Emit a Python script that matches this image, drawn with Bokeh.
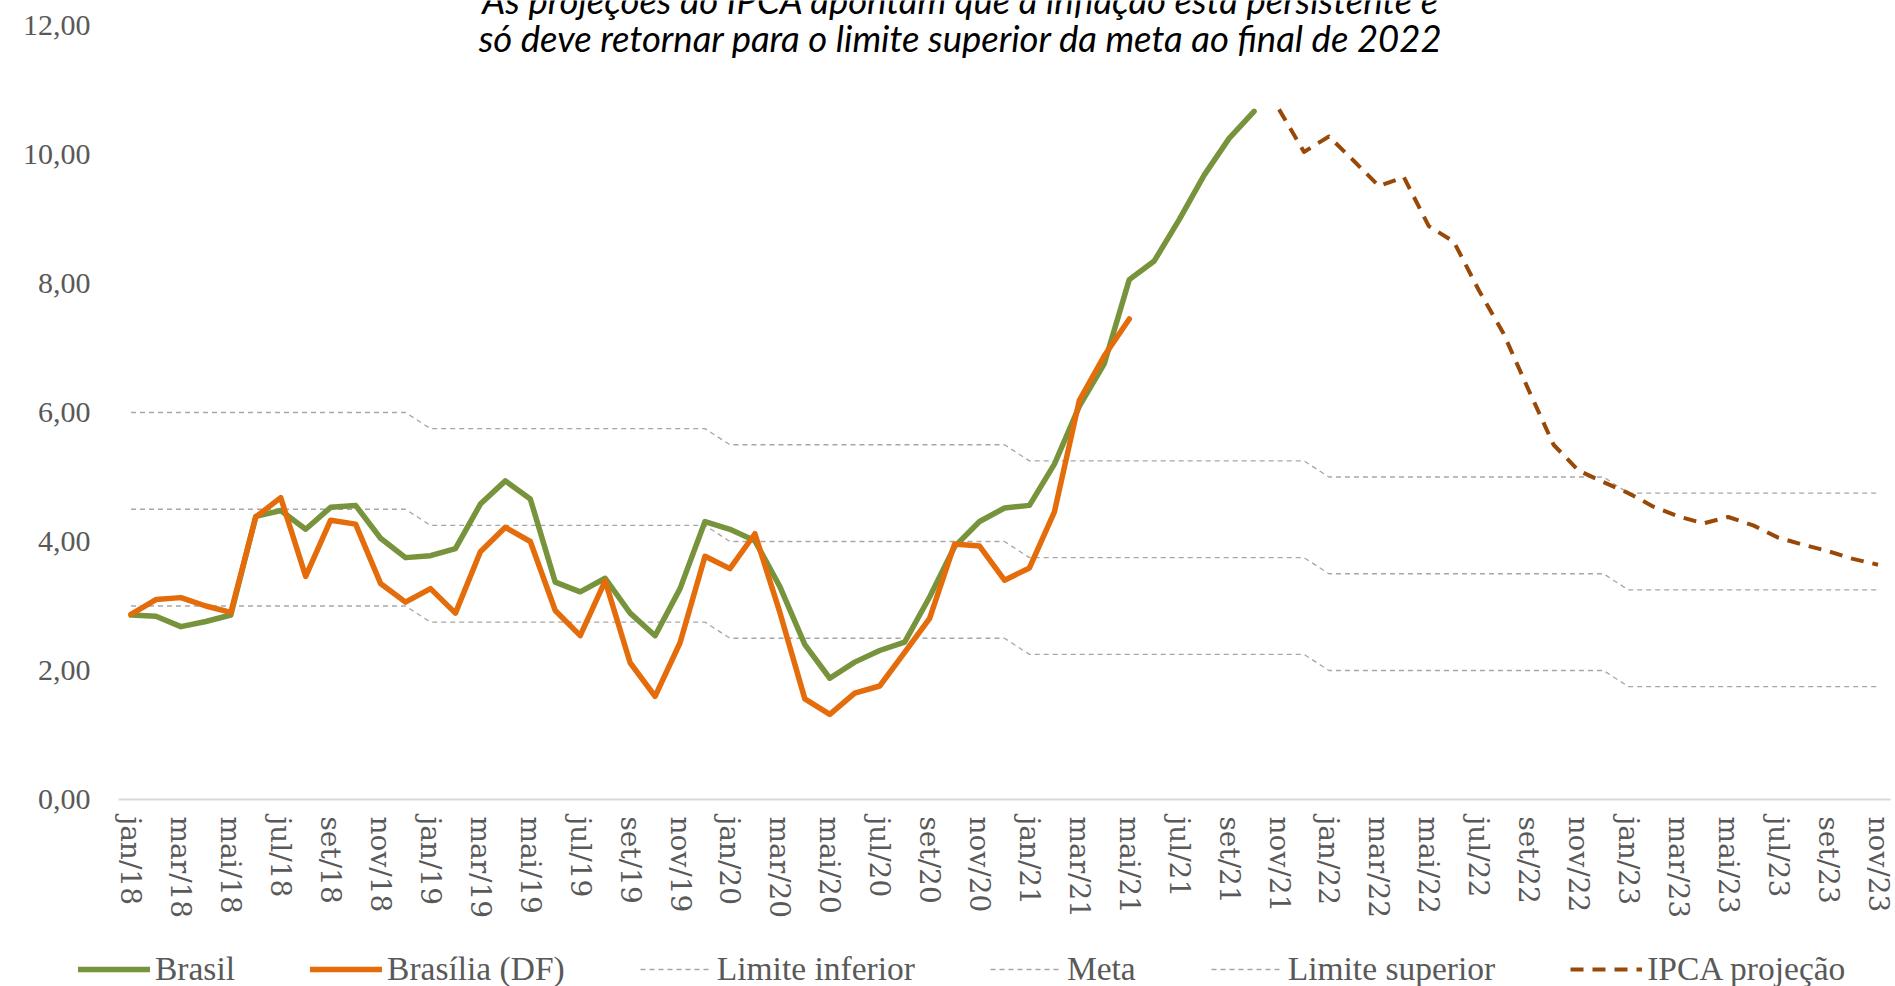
from bokeh.plotting import figure
from bokeh.models import FixedTicker, Legend, LegendItem, Label, Range1d
from bokeh.embed import file_html
from bokeh.resources import INLINE

# ---------------- data ----------------
meses_abrev = ["jan", "fev", "mar", "abr", "mai", "jun", "jul", "ago", "set", "out", "nov", "dez"]
anos = ["18", "19", "20", "21", "22", "23"]
meses = [f"{m}/{a}" for a in anos for m in meses_abrev][:71]  # jan/18 ... nov/23

brasil = [2.86, 2.84, 2.68, 2.76, 2.86, 4.39, 4.48, 4.19, 4.53, 4.56, 4.05, 3.75,
          3.78, 3.89, 4.58, 4.94, 4.66, 3.37, 3.22, 3.43, 2.89, 2.54, 3.27, 4.31,
          4.19, 4.01, 3.30, 2.40, 1.88, 2.13, 2.31, 2.44, 3.14, 3.92, 4.31, 4.52,
          4.56, 5.20, 6.10, 6.76, 8.06, 8.35, 8.99, 9.68, 10.25, 10.67]

brasilia = [2.87, 3.10, 3.13, 3.00, 2.90, 4.38, 4.68, 3.46, 4.33, 4.27, 3.35, 3.06,
            3.27, 2.89, 3.84, 4.22, 4.00, 2.93, 2.54, 3.39, 2.12, 1.60, 2.43, 3.77,
            3.58, 4.12, 2.90, 1.56, 1.32, 1.65, 1.76, 2.28, 2.81, 3.96, 3.93, 3.40,
            3.59, 4.46, 6.19, 6.88, 7.45]

projecao_inicio = "nov/21"
projecao = [10.70, 10.04, 10.28, 9.90, 9.51, 9.65, 8.89, 8.65, 7.90, 7.22, 6.35, 5.50,
            5.10, 4.92, 4.75, 4.54, 4.39, 4.28, 4.38, 4.25, 4.06, 3.95, 3.85, 3.73, 3.64]

limite_inferior = [3.0] * 12 + [2.75] * 12 + [2.5] * 12 + [2.25] * 12 + [2.0] * 12 + [1.75] * 11
meta = [4.5] * 12 + [4.25] * 12 + [4.0] * 12 + [3.75] * 12 + [3.5] * 12 + [3.25] * 11
limite_superior = [6.0] * 12 + [5.75] * 12 + [5.5] * 12 + [5.25] * 12 + [5.0] * 12 + [4.75] * 11

y_ticks = [0, 2, 4, 6, 8, 10, 12]
y_tick_labels = ["0,00", "2,00", "4,00", "6,00", "8,00", "10,00", "12,00"]

titulo_l1 = "As projeções do IPCA apontam que a inflação está persistente e"
titulo_l2 = "só deve retornar para o limite superior da meta ao final de 2022"

# ---------------- styles ----------------
GREY = dict(line_color="#A6A6A6", line_width=1.3, line_dash="5 4")
PROJ = dict(line_color="#984807", line_width=4, line_dash="13 9", line_join="round")
BR = dict(line_color="#77933C", line_width=5.5, line_join="round", line_cap="round")
DF = dict(line_color="#E46C0A", line_width=5.5, line_join="round", line_cap="round")

# ---------------- main figure ----------------
# the frame reaches the top of the canvas so the overlaid title is not clipped;
# the value 12 still lands where the reference draws it.
p = figure(width=1895, height=942, x_range=Range1d(-0.5, 70.5), y_range=Range1d(0, 12.388),
           output_backend="svg", toolbar_location=None,
           min_border_left=118, min_border_right=5, min_border_top=0, min_border_bottom=143)
p.outline_line_color = None
p.xgrid.grid_line_color = None
p.ygrid.grid_line_color = None

x_all = list(range(len(meses)))
p.line(x_all, limite_inferior, **GREY)
p.line(x_all, meta, **GREY)
p.line(x_all, limite_superior, **GREY)

i0 = meses.index(projecao_inicio)
p.line(list(range(i0, i0 + len(projecao))), projecao, **PROJ)
p.line(list(range(len(brasil))), brasil, **BR)
p.line(list(range(len(brasilia))), brasilia, **DF)

xa = p.xaxis[0]
xa.ticker = FixedTicker(ticks=list(range(0, len(meses), 2)))
xa.major_label_overrides = {i: meses[i] for i in range(0, len(meses), 2)}
xa.major_label_orientation = "vertical"
xa.major_label_text_font = "DejaVu Serif"
xa.major_label_text_font_size = "28px"
xa.major_label_text_color = "#595959"
xa.major_label_standoff = 17
xa.major_tick_line_color = None
xa.minor_tick_line_color = None
xa.major_tick_out = 0
xa.major_tick_in = 0
xa.axis_line_color = "#D9D9D9"
xa.axis_line_width = 2

ya = p.yaxis[0]
ya.ticker = FixedTicker(ticks=y_ticks)
ya.major_label_overrides = dict(zip(y_ticks, y_tick_labels))
ya.major_label_text_font = "Liberation Serif"
ya.major_label_text_font_size = "30px"
ya.major_label_text_color = "#595959"
ya.major_label_standoff = 28
ya.axis_line_color = None
ya.major_tick_line_color = None
ya.minor_tick_line_color = None
ya.major_tick_out = 0
ya.major_tick_in = 0

for txt, yy in [(titulo_l1, 12.40), (titulo_l2, 11.805)]:
    p.add_layout(Label(x=33.25, y=yy, text=txt, text_align="center", text_baseline="alphabetic",
                       text_font="Lato", text_font_style="italic", text_font_size="36.5px",
                       text_color="black"))

# ---------------- legend strip (separate root, no frame alignment) ----------------
q = figure(width=1895, height=44, x_range=Range1d(0, 1), y_range=Range1d(0, 1),
           output_backend="svg", toolbar_location=None,
           x_axis_location=None, y_axis_location=None,
           min_border_left=78, min_border_right=0, min_border_top=8, min_border_bottom=0)
q.outline_line_color = None
q.xgrid.grid_line_color = None
q.ygrid.grid_line_color = None
off = [-5, -4]  # legend-only renderers, outside the visible range
l_br = q.line(off, off, **BR)
l_df = q.line(off, off, **DF)
l_inf = q.line(off, off, **GREY)
l_meta = q.line(off, off, **GREY)
l_sup = q.line(off, off, **GREY)
l_proj = q.line(off, off, **PROJ)

legend = Legend(items=[
    LegendItem(label="Brasil", renderers=[l_br]),
    LegendItem(label="Brasília (DF)", renderers=[l_df]),
    LegendItem(label="Limite inferior", renderers=[l_inf]),
    LegendItem(label="Meta", renderers=[l_meta]),
    LegendItem(label="Limite superior", renderers=[l_sup]),
    LegendItem(label="IPCA projeção", renderers=[l_proj]),
], location="top_left", orientation="horizontal",
    label_text_font="Liberation Serif", label_text_font_size="33.5px", label_text_color="#595959",
    glyph_width=72, glyph_height=20, label_standoff=5, spacing=75, padding=0, margin=0,
    border_line_alpha=0, background_fill_alpha=0)
q.add_layout(legend, "center")

open("out.html", "w").write(file_html([p, q], INLINE))
